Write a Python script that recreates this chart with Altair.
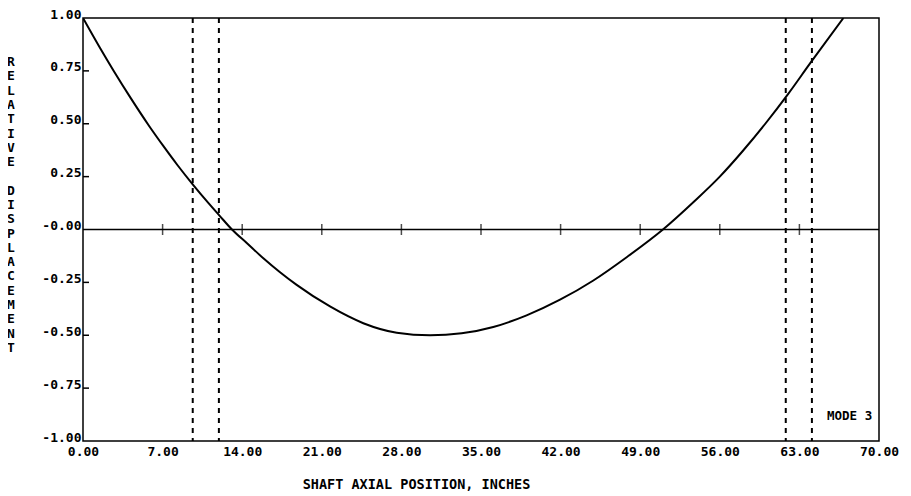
import json
import altair as alt
import pandas as pd

# ---- data ----
curve_x = [0, 1.5, 2.73, 4.2, 5.77, 7.06, 8.3, 9.7, 11.0, 12.0, 13.1, 14.4, 15.86, 17.3,
           18.79, 21.72, 24.65, 27.59, 30.52, 33.3, 36.08, 39.01, 41.95, 44.88, 47.81,
           51.0, 53.67, 56.0, 58.0, 60.0, 62.0, 64.0, 66.87]
curve_y = [1.0, 0.858, 0.747, 0.621, 0.493, 0.395, 0.305, 0.21, 0.127, 0.066, 0.0, -0.064,
           -0.136, -0.201, -0.262, -0.364, -0.443, -0.488, -0.50, -0.491, -0.461, -0.406,
           -0.332, -0.241, -0.131, 0.0, 0.129, 0.25, 0.37, 0.50, 0.64, 0.79, 1.0]

dashed_x = [9.65, 11.95, 61.8, 64.1]

x_tick_values = [0, 7, 14, 21, 28, 35, 42, 49, 56, 63, 70]
zero_line_ticks = [7, 14, 21, 28, 35, 42, 49, 56, 63]
y_tick_values = [-1, -0.75, -0.5, -0.25, 0, 0.25, 0.5, 0.75, 1]
y_tick_labels = ["-1.00", "-0.75", "-0.50", "-0.25", "-0.00", "0.25", "0.50", "0.75", "1.00"]
y_inner_ticks = [-0.75, -0.5, -0.25, 0.25, 0.5, 0.75]

x_title = "SHAFT AXIAL POSITION, INCHES"
y_title_words = ["RELATIVE", "DISPLACEMENT"]
mode_label = "MODE 3"
mode_x = [69.4]
mode_y = [-0.882]

FONT = "DejaVu Sans Mono"
LINE_H = 14.3

curve_df = pd.DataFrame({"x": curve_x, "y": curve_y})
dashed_df = pd.DataFrame({"x": dashed_x})
zt_df = pd.DataFrame({"x": zero_line_ticks, "y": [0] * len(zero_line_ticks)})
yt_df = pd.DataFrame({"y": y_inner_ticks})
zero_df = pd.DataFrame({"y": [0]})
mode_df = pd.DataFrame({"x": mode_x, "y": mode_y, "t": [mode_label]})

xs = alt.Scale(domain=[0, 70], nice=False, zero=False)
ys = alt.Scale(domain=[-1, 1], nice=False, zero=False)

label_expr = f"{json.dumps(y_tick_labels)}[indexof({json.dumps(y_tick_values)}, datum.value)]"

x_axis = alt.Axis(
    values=x_tick_values, format=".2f", tickSize=0, grid=False, domain=False,
    labelFont=FONT, labelFontSize=13, labelFontWeight="bold", labelColor="black",
    labelPadding=4, labelFlush=False, labelOverlap=False,
    title=x_title, titleFont=FONT, titleFontSize=13.5, titleFontWeight="bold",
    titleColor="black", titleX=333, titleY=43, titleAlign="center",
    titleBaseline="middle",
)
y_axis = alt.Axis(
    values=y_tick_values, labelExpr=label_expr, tickSize=0, grid=False, domain=False,
    labelFont=FONT, labelFontSize=13, labelFontWeight="bold", labelColor="black",
    labelPadding=2, labelBaseline="alphabetic", labelAlign="right",
    labelFlush=False, labelOverlap=False, title=None,
)


def X():
    return alt.X("x:Q", scale=xs, axis=x_axis)


def Y():
    return alt.Y("y:Q", scale=ys, axis=y_axis)


curve = alt.Chart(curve_df).mark_line(
    color="black", strokeWidth=2, interpolate="monotone", clip=True
).encode(x=X(), y=Y())

zero_line = alt.Chart(zero_df).mark_rule(color="black", strokeWidth=1.5).encode(y=Y())

zero_ticks = alt.Chart(zt_df).mark_tick(
    color="black", orient="vertical", size=11, thickness=1.5
).encode(x=X(), y=Y())

inner_ticks = alt.Chart(yt_df).mark_rule(color="black", strokeWidth=1.5).encode(
    y=Y(), x=alt.value(0), x2=alt.value(6)
)

dashed = alt.Chart(dashed_df).mark_rule(
    color="black", strokeWidth=2, strokeDash=[5, 5]
).encode(x=X())

mode_text = alt.Chart(mode_df).mark_text(
    font=FONT, fontSize=12.5, fontWeight="bold", color="black",
    align="right", baseline="middle"
).encode(x=X(), y=Y(), text="t:N")

# vertical (stacked-letter) y title: one word per text mark, one letter per line
title_layers = []
line_offset = 0
for word in y_title_words:
    title_layers.append(
        alt.Chart(mode_df).mark_text(
            font=FONT, fontSize=13, fontWeight="bold", color="black",
            align="center", baseline="top", lineHeight=LINE_H,
        ).encode(
            x=alt.value(-72),
            y=alt.value(38 + line_offset * LINE_H),
            text=alt.value(list(word)),
        )
    )
    line_offset += len(word) + 1

chart = alt.layer(
    curve, dashed, zero_line, zero_ticks, inner_ticks, mode_text, *title_layers
).properties(
    width=796, height=423,
    padding={"left": 75, "top": 10, "right": 24, "bottom": 52},
    autosize=alt.AutoSizeParams(type="none"),
    background="white",
).configure_view(
    stroke="black", strokeWidth=1.5
)

chart.save("out.html", embed_options={"renderer": "svg", "actions": False})
